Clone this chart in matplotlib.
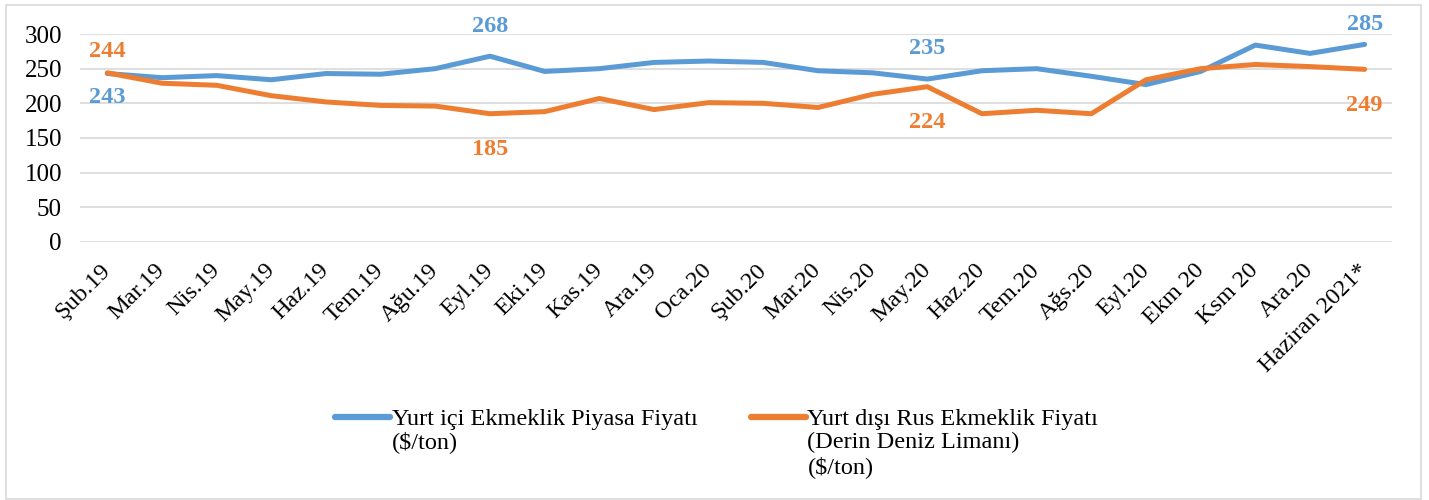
import matplotlib.pyplot as plt
import matplotlib.patches as patches

plt.rcParams['font.family'] = ['Liberation Serif', 'DejaVu Serif']

months = ["Şub.19", "Mar.19", "Nis.19", "May.19", "Haz.19", "Tem.19", "Ağu.19",
          "Eyl.19", "Eki.19", "Kas.19", "Ara.19", "Oca.20", "Şub.20", "Mar.20",
          "Nis.20", "May.20", "Haz.20", "Tem.20", "Ağs.20", "Eyl.20", "Ekm 20",
          "Ksm 20", "Ara.20", "Haziran 2021*"]
yurt_ici = [243, 237, 240, 234, 243, 242, 250, 268, 246, 250, 259, 261,
            259, 247, 244, 235, 247, 250, 239, 227, 246, 284, 272, 285]
yurt_disi = [244, 229, 226, 211, 202, 197, 196, 185, 188, 207, 191, 201,
             200, 194, 213, 224, 185, 190, 185, 234, 250, 256, 253, 249]
# labelled points: index -> vertical label offset (points)
ici_labels = {0: -17, 7: 21.5, 15: 22, 23: 14.5}
disi_labels = {0: 15, 7: -26, 15: -26, 23: -26}

blue = "#5B9BD5"
orange = "#ED7D31"

fig = plt.figure(figsize=(14.29, 5), dpi=100)
ax = fig.add_axes([80 / 1429, 1 - 242 / 500, (1392 - 80) / 1429, 208 / 500])

x = list(range(len(months)))
l1, = ax.plot(x, yurt_ici, color=blue, lw=3.6, solid_capstyle="round")
l2, = ax.plot(x, yurt_disi, color=orange, lw=3.6, solid_capstyle="round")

for i, d in ici_labels.items():
    ax.annotate(str(yurt_ici[i]), (i, yurt_ici[i]), xytext=(0, d),
                textcoords="offset points", ha="center", va="center",
                color=blue, fontsize=17.5, fontweight="bold")
for i, d in disi_labels.items():
    ax.annotate(str(yurt_disi[i]), (i, yurt_disi[i]), xytext=(0, d),
                textcoords="offset points", ha="center", va="center",
                color=orange, fontsize=17.5, fontweight="bold")

ax.set_xlim(-0.5, len(months) - 0.5)
ax.set_ylim(0, 300)
ax.set_yticks(range(0, 301, 50))
ax.set_xticks(x)
ax.set_xticklabels(months, rotation=45, ha="right", va="center",
                   rotation_mode="anchor", fontsize=17.5)
ax.tick_params(axis="y", length=0, pad=13, labelsize=18)
ax.tick_params(axis="x", length=0, pad=18)
ax.grid(axis="y", color="#D9D9D9", lw=1.2)
ax.set_axisbelow(True)
for s in ax.spines.values():
    s.set_visible(False)

leg = fig.legend([l1, l2], ["Yurt içi Ekmeklik Piyasa Fiyatı",
                            "Yurt dışı Rus Ekmeklik Fiyatı"],
                 loc="center left", bbox_to_anchor=(335 / 1429, 1 - 419 / 500),
                 ncol=2, frameon=False, fontsize=17.5, handlelength=2.25,
                 handletextpad=0.08, columnspacing=2.2, borderpad=0,
                 borderaxespad=0)
for h in leg.get_lines():
    h.set_linewidth(4.5)
texts = leg.get_texts()
fig.canvas.draw()
ax.annotate("($/ton)", xy=(0, 0), xycoords=texts[0], xytext=(0, -1),
            textcoords="offset points", ha="left", va="top", fontsize=17.5,
            annotation_clip=False)
ax.annotate("(Derin Deniz Limanı)\n($/ton)", xy=(0, 0), xycoords=texts[1],
            xytext=(0, -1), textcoords="offset points", ha="left", va="top",
            fontsize=17.5, linespacing=1.22, annotation_clip=False)

fig.patches.append(patches.Rectangle((6 / 1429, 0.002), 1415 / 1429, 1 - 5 / 500 - 0.002,
                                     transform=fig.transFigure, fill=False,
                                     edgecolor="#D9D9D9", lw=1.2))

fig.savefig("out.png", dpi=100)
